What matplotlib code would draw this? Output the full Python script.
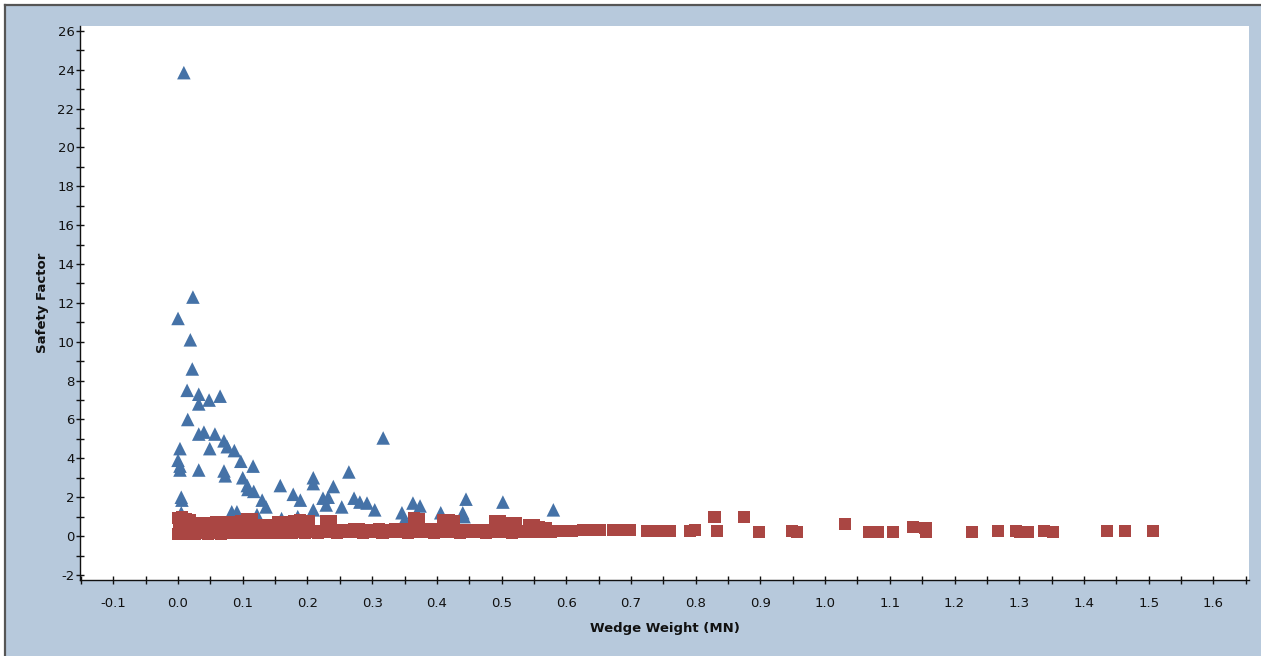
import matplotlib
matplotlib.use("Agg")
import matplotlib.pyplot as plt
from matplotlib.patches import Rectangle
from matplotlib.lines import Line2D
from matplotlib.ticker import MultipleLocator, FormatStrFormatter

# ---------------- data ----------------
# Series 1: blue triangles
blue_x = [0.009, 0.000, 0.023, 0.019, 0.022, 0.014, 0.032, 0.048, 0.065, 0.032,
          0.015, 0.032, 0.040, 0.057, 0.071, 0.076, 0.087, 0.003, 0.049, 0.000,
          0.003, 0.003, 0.032, 0.071, 0.073, 0.097, 0.116, 0.100, 0.107, 0.108,
          0.117, 0.130, 0.136, 0.158, 0.178, 0.189, 0.209, 0.209, 0.240, 0.264,
          0.224, 0.232, 0.229, 0.209, 0.253, 0.272, 0.281, 0.292, 0.304, 0.317,
          0.005, 0.006, 0.005, 0.083, 0.091, 0.122, 0.346, 0.350, 0.363, 0.374,
          0.362, 0.406, 0.440, 0.445, 0.442, 0.502, 0.580, 0.160, 0.185]
blue_y = [23.85, 11.2, 12.3, 10.1, 8.6, 7.5, 7.3, 7.0, 7.2, 6.8,
          6.0, 5.25, 5.35, 5.25, 4.9, 4.6, 4.4, 4.5, 4.5, 3.9,
          3.6, 3.4, 3.4, 3.35, 3.1, 3.85, 3.6, 3.0, 2.6, 2.4,
          2.3, 1.85, 1.5, 2.6, 2.15, 1.85, 3.0, 2.7, 2.55, 3.3,
          1.95, 2.0, 1.6, 1.35, 1.5, 1.95, 1.75, 1.7, 1.35, 5.05,
          2.0, 1.85, 1.2, 1.25, 1.25, 1.1, 1.2, 0.85, 1.7, 1.55,
          0.9, 1.2, 1.2, 1.9, 1.0, 1.75, 1.35, 0.9, 1.0]

# Series 2: red squares
red_x = [
    # upper points of the dense band
    0.000, 0.006, 0.012, 0.018, 0.025, 0.033, 0.041, 0.049, 0.058, 0.066,
    0.074, 0.082, 0.090, 0.098, 0.107, 0.114, 0.122, 0.130, 0.138, 0.146,
    0.154, 0.162, 0.170, 0.180, 0.188, 0.196, 0.203, 0.212, 0.219, 0.228,
    0.236, 0.246, 0.255, 0.262, 0.272, 0.280, 0.292, 0.300, 0.310, 0.320,
    0.328, 0.336, 0.345, 0.354, 0.365, 0.372, 0.382, 0.392, 0.400, 0.410,
    0.418, 0.426, 0.436, 0.446, 0.456, 0.466, 0.476, 0.490, 0.497, 0.505,
    0.514, 0.522, 0.532, 0.542, 0.550, 0.558, 0.568, 0.578, 0.588, 0.598,
    0.608,
    # middle points of the dense band
    0.002, 0.010, 0.020, 0.030, 0.045, 0.060, 0.075, 0.090, 0.105, 0.115,
    0.135, 0.160, 0.175, 0.190, 0.200, 0.230, 0.368, 0.415, 0.492, 0.510,
    # lower points of the dense band
    0.000, 0.008, 0.016, 0.026, 0.036, 0.046, 0.056, 0.066, 0.076, 0.086,
    0.096, 0.106, 0.116, 0.126, 0.136, 0.146, 0.156, 0.166, 0.176, 0.186,
    0.196, 0.206, 0.216, 0.226, 0.236, 0.246, 0.256, 0.266, 0.276, 0.286,
    0.296, 0.306, 0.316, 0.326, 0.336, 0.346, 0.356, 0.366, 0.376, 0.386,
    0.396, 0.406, 0.416, 0.426, 0.436, 0.446, 0.456, 0.466, 0.476, 0.486,
    0.496, 0.506, 0.516, 0.526, 0.536, 0.546, 0.556, 0.566, 0.576,
    # sparse tail
    0.626, 0.640, 0.652, 0.672, 0.686, 0.699, 0.725, 0.737, 0.750, 0.760,
    0.791, 0.799, 0.829, 0.833, 0.875, 0.898, 0.949, 0.957, 1.031, 1.068,
    1.082, 1.105, 1.136, 1.155, 1.156, 1.227, 1.267, 1.295, 1.301, 1.314,
    1.338, 1.352, 1.436, 1.464, 1.507]
red_y = [
    0.95, 1.00, 0.90, 0.85, 0.66, 0.68, 0.65, 0.67, 0.72, 0.70,
    0.73, 0.71, 0.72, 0.76, 0.88, 0.90, 0.50, 0.57, 0.56, 0.28,
    0.70, 0.68, 0.70, 0.78, 0.80, 0.77, 0.79, 0.26, 0.25, 0.78,
    0.76, 0.30, 0.32, 0.30, 0.36, 0.35, 0.33, 0.32, 0.34, 0.33,
    0.32, 0.36, 0.35, 0.36, 0.93, 0.90, 0.37, 0.36, 0.37, 0.82,
    0.80, 0.79, 0.31, 0.30, 0.31, 0.30, 0.31, 0.78, 0.77, 0.67,
    0.66, 0.66, 0.27, 0.57, 0.56, 0.47, 0.43, 0.28, 0.26, 0.27,
    0.26,
    0.50, 0.45, 0.40, 0.42, 0.40, 0.45, 0.42, 0.45, 0.50, 0.45,
    0.35, 0.40, 0.42, 0.45, 0.40, 0.45, 0.55, 0.50, 0.45, 0.40,
    0.12, 0.10, 0.15, 0.12, 0.14, 0.12, 0.15, 0.13, 0.15, 0.14,
    0.16, 0.15, 0.18, 0.16, 0.17, 0.15, 0.18, 0.16, 0.17, 0.19,
    0.18, 0.20, 0.18, 0.19, 0.20, 0.18, 0.20, 0.19, 0.20, 0.18,
    0.20, 0.19, 0.18, 0.20, 0.19, 0.20, 0.18, 0.20, 0.19, 0.20,
    0.18, 0.20, 0.19, 0.20, 0.18, 0.20, 0.19, 0.20, 0.18, 0.20,
    0.19, 0.20, 0.18, 0.20, 0.19, 0.20, 0.19, 0.20, 0.19,
    0.31, 0.31, 0.31, 0.31, 0.31, 0.31, 0.26, 0.26, 0.26, 0.26,
    0.26, 0.30, 0.98, 0.26, 0.98, 0.20, 0.27, 0.20, 0.62, 0.20,
    0.20, 0.20, 0.48, 0.43, 0.20, 0.20, 0.27, 0.27, 0.20, 0.20,
    0.27, 0.20, 0.27, 0.27, 0.27]

x_label = "Wedge Weight (MN)"
y_label = "Safety Factor"

# ---------------- style ----------------
BLUE = "#4572A7"
RED = "#AA4643"
BG = "#B7C9DC"

plt.rcParams["font.family"] = ["DejaVu Sans"]
plt.rcParams["axes.unicode_minus"] = False

W, H = 1261, 656
fig = plt.figure(figsize=(W / 100, H / 100), dpi=100, facecolor="white")

# light blue frame with dark top/left border (drawn beneath the axes)
fig.patches.append(Rectangle((5 / W, 0), 1 - 5 / W, (H - 5) / H,
                             transform=fig.transFigure, facecolor=BG,
                             edgecolor="none", zorder=-3))
fig.lines.append(Line2D([5 / W, 5 / W], [0, (H - 5) / H], transform=fig.transFigure,
                        color="#555555", linewidth=1.6, zorder=-2))
fig.lines.append(Line2D([5 / W, 1], [(H - 5) / H, (H - 5) / H], transform=fig.transFigure,
                        color="#555555", linewidth=1.6, zorder=-2))

ax = fig.add_axes([80 / W, (H - 580) / H, (1249 - 80) / W, (580 - 26) / H])
ax.set_zorder(1)
ax.set_facecolor("white")

ax.scatter(blue_x, blue_y, marker="^", s=95, color=BLUE, edgecolors="none",
           zorder=3, clip_on=True)
ax.scatter(red_x, red_y, marker="s", s=76, color=RED, edgecolors="none",
           zorder=4, clip_on=True)

ax.set_xlim(-0.1515, 1.655)
ax.set_ylim(-2.26, 26.25)

ax.xaxis.set_major_locator(MultipleLocator(0.1))
ax.xaxis.set_minor_locator(MultipleLocator(0.05))
ax.xaxis.set_major_formatter(FormatStrFormatter("%.1f"))
ax.yaxis.set_major_locator(MultipleLocator(2))
ax.yaxis.set_minor_locator(MultipleLocator(1))

for s in ["top", "right"]:
    ax.spines[s].set_visible(False)
for s in ["left", "bottom"]:
    ax.spines[s].set_color("#111111")
    ax.spines[s].set_linewidth(1.0)

ax.tick_params(axis="both", which="both", direction="inout", color="#111111",
               width=1.0, labelsize=9.5, labelcolor="#111111")
ax.tick_params(axis="x", which="both", length=6, pad=9)
ax.tick_params(axis="y", which="both", length=6, pad=1)

ax.set_xlabel(x_label, fontsize=9.5, fontweight="bold", color="#111111", labelpad=9)
ax.set_ylabel(y_label, fontsize=9.5, fontweight="bold", color="#111111", labelpad=6)

fig.savefig("out.png", dpi=100, facecolor=fig.get_facecolor())
